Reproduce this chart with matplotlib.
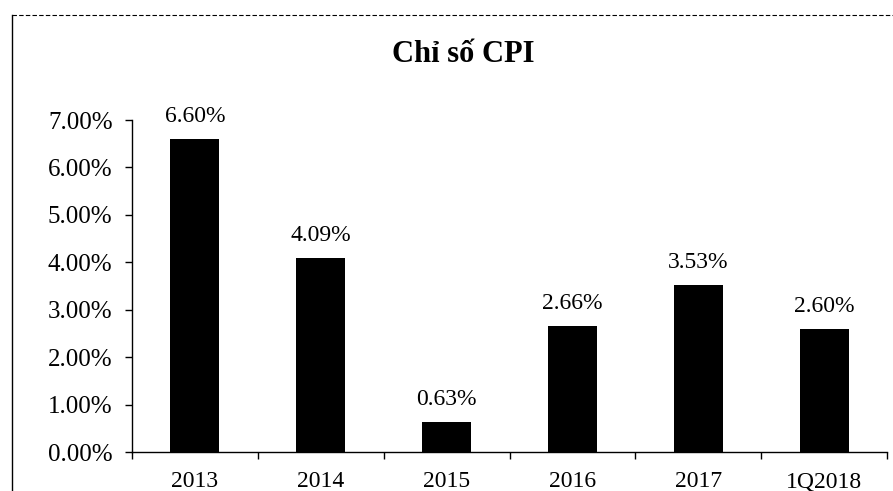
import numpy as np
import matplotlib.pyplot as plt
from matplotlib.lines import Line2D

# Données du graphique
categories = ["2013", "2014", "2015", "2016", "2017", "1Q2018"]
cpi = [6.60, 4.09, 0.63, 2.66, 3.53, 2.60]
y_ticks = [0, 1, 2, 3, 4, 5, 6, 7]

plt.rcParams['font.family'] = ['Liberation Serif', 'DejaVu Serif']

fig = plt.figure(figsize=(8.93, 4.91), dpi=100)
ax = fig.add_axes([0.1478, 0.0794, 0.8455, 0.6762])

x = np.arange(len(categories))
ax.bar(x, cpi, width=0.39, color='black')

for xi, v in zip(x, cpi):
    ax.annotate(f"{v:.2f}%", (xi, v), xytext=(0, 8.5), textcoords='offset points',
                ha='center', va='bottom', fontsize=17)

ax.set_xlim(-0.5, len(categories) - 0.5)
ax.set_ylim(0, 7)
ax.set_yticks(y_ticks)
ax.set_yticklabels([f"{t:.2f}%" for t in y_ticks], fontsize=18)

# Ticks de l'axe x entre les catégories
ax.set_xticks(np.arange(-0.5, len(categories), 1.0))
ax.set_xticklabels([])
ax.set_xticks(x, minor=True)
ax.set_xticklabels(categories, minor=True, fontsize=17)
ax.tick_params(axis='x', which='major', direction='out', length=5, width=1)
ax.tick_params(axis='x', which='minor', length=0, pad=14)
ax.tick_params(axis='y', direction='out', length=5, width=1, pad=9)

for s in ['top', 'right']:
    ax.spines[s].set_visible(False)
ax.spines['left'].set_linewidth(1)
ax.spines['bottom'].set_linewidth(1)

fig.text(0.519, 0.888, "Chỉ số CPI", ha='center', va='center',
         fontsize=22, fontweight='bold')

# Cadre du graphique (bord gauche et haut)
fig.add_artist(Line2D([12/893, 12/893], [0, 1 - 15/491], color='black', lw=1))
fig.add_artist(Line2D([12/893, 1], [1 - 15/491, 1 - 15/491], color='black', lw=0.8,
                      linestyle=(0, (4, 2))))

fig.savefig("out.png", dpi=100)
